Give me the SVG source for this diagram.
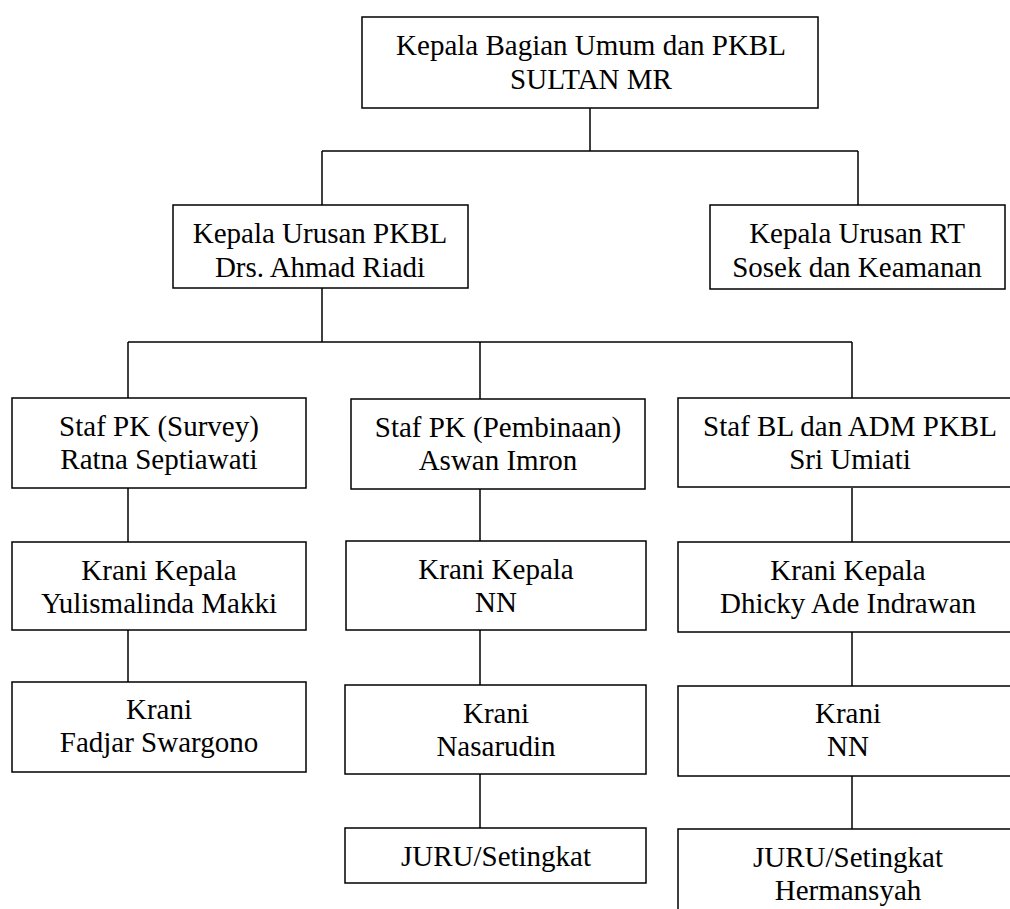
<svg xmlns="http://www.w3.org/2000/svg" width="1010" height="909" viewBox="0 0 1010 909">
  <style>
    .box { fill: #ffffff; stroke: #000000; stroke-width: 1.5; }
    text { font-family: "Times New Roman", Times, "Liberation Serif", "Noto Serif", "DejaVu Serif", serif; font-size: 29px; fill: #000000; text-anchor: middle; }
    .conn line { stroke: #000000; stroke-width: 1.5; }
  </style>
  <rect width="1010" height="909" fill="#ffffff"/>

  <!-- connectors -->
  <g id="connectors" class="conn">
    <line x1="590" y1="108" x2="590" y2="151"/>
    <line x1="322" y1="151" x2="858" y2="151"/>
    <line x1="322" y1="151" x2="322" y2="205"/>
    <line x1="858" y1="151" x2="858" y2="205"/>
    <line x1="322" y1="288" x2="322" y2="342"/>
    <line x1="128" y1="342" x2="852" y2="342"/>
    <line x1="128" y1="342" x2="128" y2="398"/>
    <line x1="480" y1="342" x2="480" y2="399"/>
    <line x1="852" y1="342" x2="852" y2="398"/>
    <line x1="128" y1="488" x2="128" y2="542"/>
    <line x1="128" y1="630" x2="128" y2="682"/>
    <line x1="480" y1="489" x2="480" y2="541"/>
    <line x1="480" y1="630" x2="480" y2="685"/>
    <line x1="480" y1="774" x2="480" y2="828"/>
    <line x1="852" y1="488" x2="852" y2="542"/>
    <line x1="852" y1="632" x2="852" y2="686"/>
    <line x1="852" y1="776" x2="852" y2="829"/>
  </g>

  <g id="kabag">
    <rect class="box" x="362" y="17" width="456" height="91"/>
    <text x="591" y="55">Kepala Bagian Umum dan PKBL</text>
    <text x="591" y="89">SULTAN MR</text>
  </g>

  <g id="kaur-pkbl">
    <rect class="box" x="173" y="205" width="295" height="83"/>
    <text x="320" y="243">Kepala Urusan PKBL</text>
    <text x="320" y="277">Drs. Ahmad Riadi</text>
  </g>

  <g id="kaur-rt">
    <rect class="box" x="710" y="205" width="295" height="84"/>
    <text x="857" y="243">Kepala Urusan RT</text>
    <text x="857" y="277">Sosek dan Keamanan</text>
  </g>

  <!-- left column -->
  <g id="staf-survey">
    <rect class="box" x="12" y="398" width="294" height="90"/>
    <text x="159" y="436">Staf PK (Survey)</text>
    <text x="159" y="469">Ratna Septiawati</text>
  </g>
  <g id="krani-kepala-1">
    <rect class="box" x="12" y="542" width="294" height="88"/>
    <text x="159" y="580">Krani Kepala</text>
    <text x="159" y="613">Yulismalinda Makki</text>
  </g>
  <g id="krani-1">
    <rect class="box" x="12" y="682" width="294" height="90"/>
    <text x="159" y="719">Krani</text>
    <text x="159" y="752">Fadjar Swargono</text>
  </g>

  <!-- middle column -->
  <g id="staf-pembinaan">
    <rect class="box" x="351" y="399" width="294" height="90"/>
    <text x="498" y="437">Staf PK (Pembinaan)</text>
    <text x="498" y="470">Aswan Imron</text>
  </g>
  <g id="krani-kepala-2">
    <rect class="box" x="346" y="541" width="300" height="89"/>
    <text x="496" y="579">Krani Kepala</text>
    <text x="496" y="612">NN</text>
  </g>
  <g id="krani-2">
    <rect class="box" x="345" y="685" width="301" height="89"/>
    <text x="496" y="723">Krani</text>
    <text x="496" y="756">Nasarudin</text>
  </g>
  <g id="juru-2">
    <rect class="box" x="345" y="828" width="301" height="55"/>
    <text x="496" y="866">JURU/Setingkat</text>
  </g>

  <!-- right column -->
  <g id="staf-bl">
    <rect class="box" x="678" y="398" width="345" height="89"/>
    <text x="850" y="436">Staf BL dan ADM PKBL</text>
    <text x="850" y="469">Sri Umiati</text>
  </g>
  <g id="krani-kepala-3">
    <rect class="box" x="678" y="542" width="345" height="90"/>
    <text x="848" y="580">Krani Kepala</text>
    <text x="848" y="613">Dhicky Ade Indrawan</text>
  </g>
  <g id="krani-3">
    <rect class="box" x="678" y="686" width="345" height="90"/>
    <text x="848" y="723">Krani</text>
    <text x="848" y="756">NN</text>
  </g>
  <g id="juru-3">
    <rect class="box" x="678" y="829" width="345" height="100"/>
    <text x="848" y="867">JURU/Setingkat</text>
    <text x="848" y="900">Hermansyah</text>
  </g>
</svg>
